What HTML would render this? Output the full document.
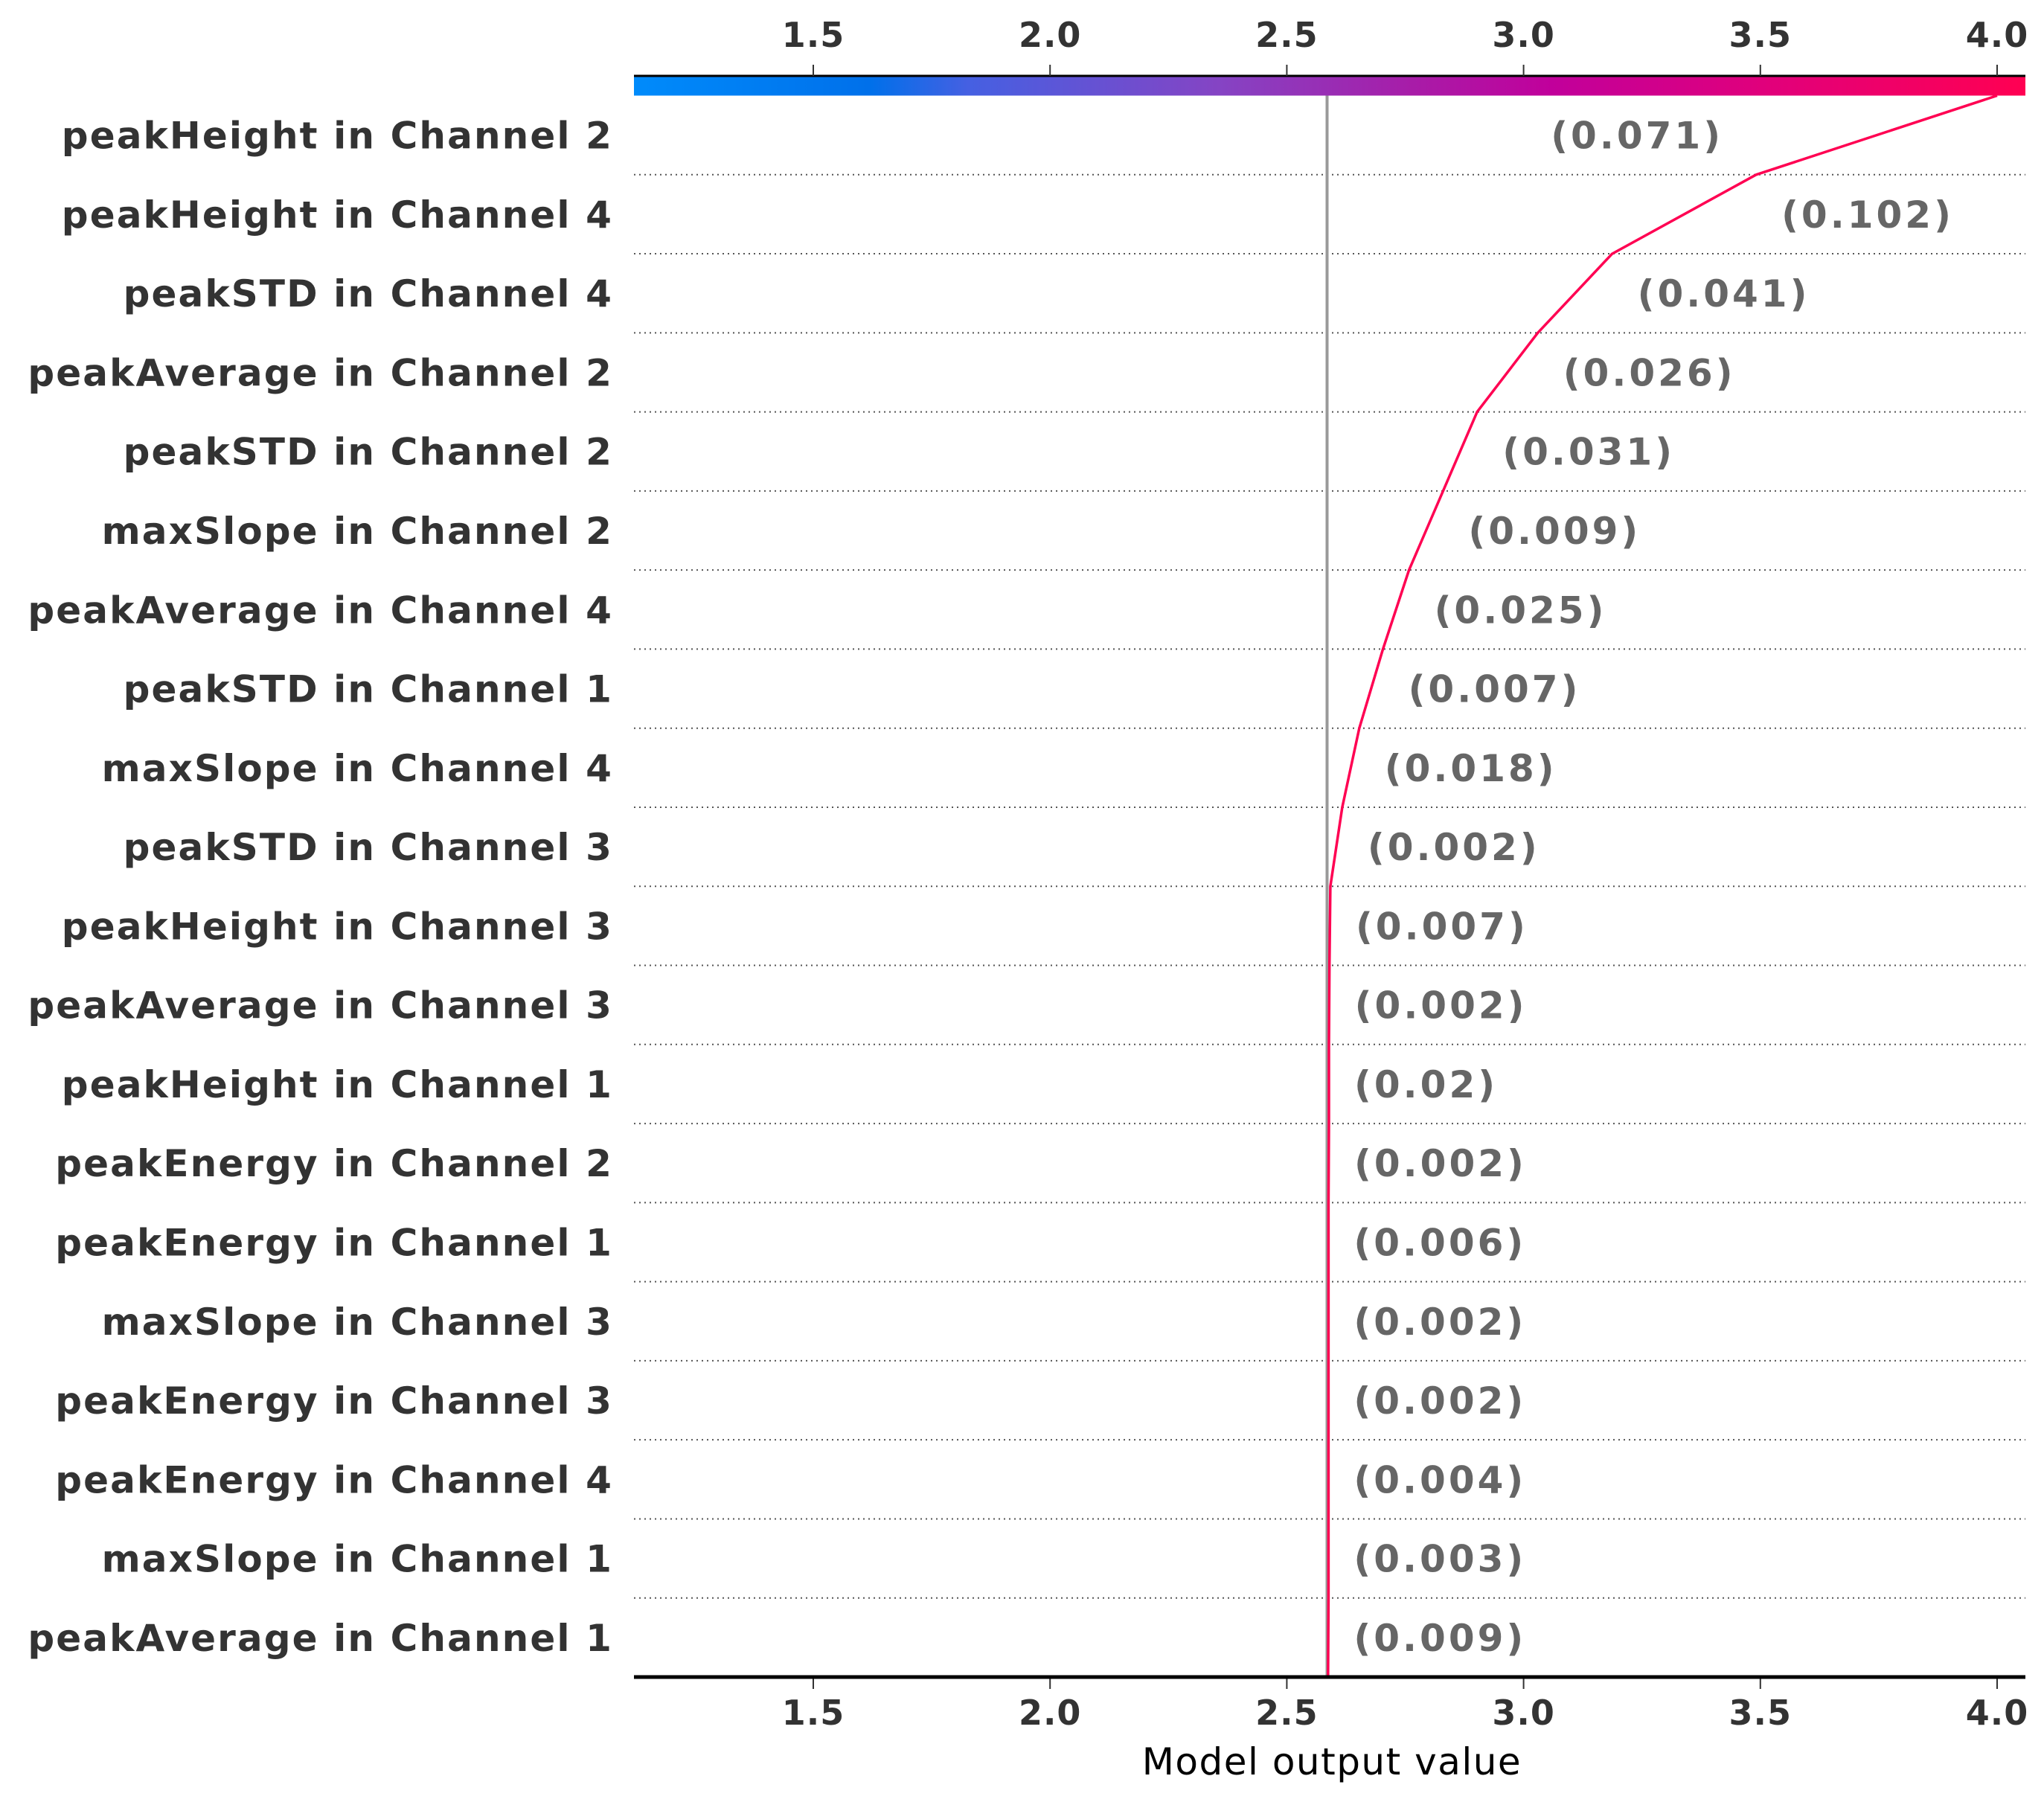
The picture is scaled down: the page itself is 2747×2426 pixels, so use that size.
<!DOCTYPE html>
<html><head><meta charset="utf-8"><style>
html,body{margin:0;padding:0;background:#fff;}
svg{display:block;font-family:"DejaVu Sans","Liberation Sans",sans-serif;}
</style></head><body>
<svg id="chart" width="2747" height="2426" viewBox="0 0 2747 2426" xmlns="http://www.w3.org/2000/svg">
<defs>
<linearGradient id="cbg" x1="0" x2="1" y1="0" y2="0">
<stop offset="0" stop-color="#008bfb"/>
<stop offset="0.17" stop-color="#0070ea"/>
<stop offset="0.24" stop-color="#4560e2"/>
<stop offset="0.42" stop-color="#8544c4"/>
<stop offset="0.56" stop-color="#a81ca8"/>
<stop offset="0.66" stop-color="#c1009b"/>
<stop offset="0.82" stop-color="#e2007a"/>
<stop offset="1" stop-color="#ff0052"/>
</linearGradient>
</defs>
<g id="layer"></g>
</svg>
<script>
const features = ["peakHeight in Channel 2","peakHeight in Channel 4","peakSTD in Channel 4","peakAverage in Channel 2","peakSTD in Channel 2","maxSlope in Channel 2","peakAverage in Channel 4","peakSTD in Channel 1","maxSlope in Channel 4","peakSTD in Channel 3","peakHeight in Channel 3","peakAverage in Channel 3","peakHeight in Channel 1","peakEnergy in Channel 2","peakEnergy in Channel 1","maxSlope in Channel 3","peakEnergy in Channel 3","peakEnergy in Channel 4","maxSlope in Channel 1","peakAverage in Channel 1"];
const featureValues = ["(0.071)","(0.102)","(0.041)","(0.026)","(0.031)","(0.009)","(0.025)","(0.007)","(0.018)","(0.002)","(0.007)","(0.002)","(0.02)","(0.002)","(0.006)","(0.002)","(0.002)","(0.004)","(0.003)","(0.009)"];
const outputs = [4.0,3.491,3.187,3.030,2.902,2.830,2.758,2.703,2.653,2.617,2.592,2.590,2.589,2.589,2.588,2.588,2.588,2.588,2.588,2.588,2.587];
const baseValue = 2.585;
const tickValues = [1.5,2.0,2.5,3.0,3.5,4.0];
const tickLabels = ["1.5","2.0","2.5","3.0","3.5","4.0"];

const NS="http://www.w3.org/2000/svg";
const g=document.getElementById('layer');
const L=852,R=2722,TOP=128.5,BOT=2254,CB_T=102;
const rowH=(BOT-TOP)/features.length;
const xS=v=>1093+(v-1.5)*636.4;
function mk(t,a,p){const e=document.createElementNS(NS,t);for(const k in a)e.setAttribute(k,a[k]);(p||g).appendChild(e);return e;}

let e=mk('rect',{x:L,y:CB_T,width:R-L,height:TOP-CB_T,fill:'url(#cbg)'});


e=mk('line',{x1:L,x2:R,y1:CB_T,y2:CB_T,stroke:'#000','stroke-width':3});



for(let i=1;i<features.length;i++){
  const y=TOP+rowH*i;
  e=mk('line',{x1:L,x2:R,y1:y,y2:y,stroke:'#555','stroke-width':2,'stroke-dasharray':'2 5'});
  
  
}
e=mk('line',{x1:xS(baseValue),x2:xS(baseValue),y1:TOP,y2:BOT,stroke:'#999','stroke-width':4});



tickValues.forEach((v,i)=>{
  const x=xS(v);
  e=mk('line',{x1:x,x2:x,y1:87,y2:CB_T,stroke:'#333','stroke-width':2});
  
  
  e=mk('text',{x:x,y:63,'text-anchor':'middle','font-size':46,'font-weight':'bold',fill:'#333','letter-spacing':1});
  e.textContent=tickLabels[i];
  
  
  e=mk('line',{x1:x,x2:x,y1:BOT,y2:BOT+16,stroke:'#333','stroke-width':2});
  
  
  e=mk('text',{x:x,y:2318,'text-anchor':'middle','font-size':46,'font-weight':'bold',fill:'#333','letter-spacing':1});
  e.textContent=tickLabels[i];
  
  
});

features.forEach((f,i)=>{
  const yc=TOP+rowH*(i+0.5);
  e=mk('text',{x:824,y:yc+18,'text-anchor':'end','font-size':50,'font-weight':'bold',fill:'#333','letter-spacing':2.1});
  e.textContent=f;
  
  
  const xu=xS(outputs[i]),xl=xS(outputs[i+1]);
  const w=featureValues[i].length*33;
  let attrs={y:yc+18,'font-size':50,'font-weight':'bold',fill:'#666','letter-spacing':4};
  if(Math.max(xu,xl)+34+w>R){attrs.x=Math.min(xu,xl)-44;attrs['text-anchor']='end';}
  else{attrs.x=Math.max(xu,xl)+34;attrs['text-anchor']='start';}
  e=mk('text',attrs);
  e.textContent=featureValues[i];
  
  
});

const pts=outputs.map((v,i)=>xS(v).toFixed(1)+','+(TOP+rowH*i).toFixed(1)).join(' ');
e=mk('polyline',{points:pts,fill:'none',stroke:'#ff0052','stroke-width':3.5,'stroke-linejoin':'round'});



e=mk('line',{x1:L,x2:R,y1:BOT,y2:BOT,stroke:'#000','stroke-width':5});


e=mk('text',{x:1790,y:2385,'text-anchor':'middle','font-size':50,fill:'#000','letter-spacing':1.5});
e.textContent='Model output value';


</script>
</body></html>
